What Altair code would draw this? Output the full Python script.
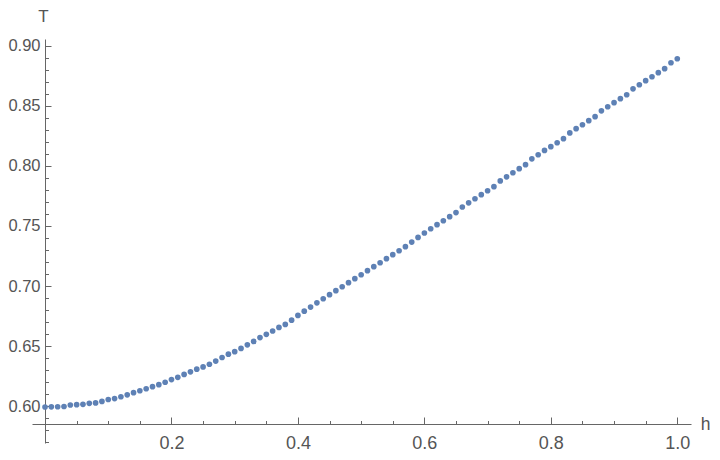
import altair as alt
import pandas as pd

# h grid (x values)
h_values = [
    0.00, 0.01, 0.02, 0.03, 0.04, 0.05, 0.06, 0.07, 0.08, 0.09,
    0.10, 0.11, 0.12, 0.13, 0.14, 0.15, 0.16, 0.17, 0.18, 0.19,
    0.20, 0.21, 0.22, 0.23, 0.24, 0.25, 0.26, 0.27, 0.28, 0.29,
    0.30, 0.31, 0.32, 0.33, 0.34, 0.35, 0.36, 0.37, 0.38, 0.39,
    0.40, 0.41, 0.42, 0.43, 0.44, 0.45, 0.46, 0.47, 0.48, 0.49,
    0.50, 0.51, 0.52, 0.53, 0.54, 0.55, 0.56, 0.57, 0.58, 0.59,
    0.60, 0.61, 0.62, 0.63, 0.64, 0.65, 0.66, 0.67, 0.68, 0.69,
    0.70, 0.71, 0.72, 0.73, 0.74, 0.75, 0.76, 0.77, 0.78, 0.79,
    0.80, 0.81, 0.82, 0.83, 0.84, 0.85, 0.86, 0.87, 0.88, 0.89,
    0.90, 0.91, 0.92, 0.93, 0.94, 0.95, 0.96, 0.97, 0.98, 0.99,
    1.00,
]

# T values
T_values = [
    0.5992, 0.5993, 0.5994, 0.5996, 0.6008, 0.6011, 0.6014, 0.6022, 0.6026, 0.6038,
    0.6054, 0.6062, 0.6077, 0.6093, 0.6111, 0.6127, 0.6144, 0.6161, 0.6178, 0.6198,
    0.6220, 0.6239, 0.6263, 0.6285, 0.6307, 0.6326, 0.6348, 0.6374, 0.6404, 0.6432,
    0.6453, 0.6480, 0.6510, 0.6538, 0.6570, 0.6597, 0.6625, 0.6655, 0.6680, 0.6715,
    0.6755, 0.6790, 0.6824, 0.6860, 0.6894, 0.6928, 0.6961, 0.6994, 0.7028, 0.7061,
    0.7094, 0.7128, 0.7161, 0.7194, 0.7228, 0.7261, 0.7294, 0.7328, 0.7366, 0.7405,
    0.7442, 0.7477, 0.7511, 0.7544, 0.7578, 0.7612, 0.7658, 0.7693, 0.7727, 0.7761,
    0.7794, 0.7828, 0.7876, 0.7910, 0.7944, 0.7978, 0.8011, 0.8060, 0.8094, 0.8130,
    0.8161, 0.8194, 0.8228, 0.8276, 0.8311, 0.8344, 0.8378, 0.8411, 0.8460, 0.8494,
    0.8528, 0.8561, 0.8594, 0.8643, 0.8677, 0.8711, 0.8744, 0.8778, 0.8811, 0.8860,
    0.8894,
]

x_major = [0.2, 0.4, 0.6, 0.8, 1.0]
x_minor = [0.05, 0.1, 0.15, 0.25, 0.3, 0.35, 0.45, 0.5, 0.55, 0.65, 0.7, 0.75,
           0.85, 0.9, 0.95]
y_major = [0.60, 0.65, 0.70, 0.75, 0.80, 0.85, 0.90]
y_minor = [0.57, 0.58, 0.59, 0.61, 0.62, 0.63, 0.64, 0.66, 0.67, 0.68, 0.69,
           0.71, 0.72, 0.73, 0.74, 0.76, 0.77, 0.78, 0.79, 0.81, 0.82, 0.83,
           0.84, 0.86, 0.87, 0.88, 0.89]

x_domain = [-0.0206, 1.0217]
y_domain = [0.56917, 0.90583]

df = pd.DataFrame({"h": h_values, "T": T_values})

W, H = 659, 404
AXIS_COLOR = "#666666"
LABEL_COLOR = "#555555"
FONT = "Liberation Sans"

xs = alt.Scale(domain=x_domain, nice=False, zero=False)
ys = alt.Scale(domain=y_domain, nice=False, zero=False)

# Labels + titles layer (with the visible points)
points = alt.Chart(df).mark_circle(size=32, opacity=1, color="#5E81B5").encode(
    x=alt.X("h:Q", scale=xs, axis=alt.Axis(
        orient="bottom", offset=-19, values=x_major, format=".1f",
        ticks=False, domain=False, grid=False,
        labelPadding=10.5, labelFontSize=18, labelColor=LABEL_COLOR, labelFont=FONT,
        title="h", titleAngle=0, titleX=673, titleY=0.5,
        titleAlign="center", titleBaseline="middle",
        titleFontSize=17.5, titleFontWeight="normal", titleColor=LABEL_COLOR, titleFont=FONT,
    )),
    y=alt.Y("T:Q", scale=ys, axis=alt.Axis(
        orient="left", offset=-13, values=y_major, format=".2f",
        ticks=False, domain=False, grid=False,
        labelPadding=5, labelFontSize=16.5, labelColor=LABEL_COLOR, labelFont=FONT,
        title="T", titleAngle=0, titleX=-2, titleY=-30.5,
        titleAlign="center", titleBaseline="top",
        titleFontSize=17, titleFontWeight="normal", titleColor=LABEL_COLOR, titleFont=FONT,
    )),
)

# Axis lines + major ticks
major = alt.Chart(df).mark_circle(opacity=0).encode(
    x=alt.X("h:Q", scale=xs, axis=alt.Axis(
        orient="top", offset=-385, values=x_major, labels=False, grid=False,
        domain=True, domainColor=AXIS_COLOR, domainWidth=1,
        ticks=True, tickSize=7, tickColor=AXIS_COLOR, tickWidth=1, title=None,
    )),
    y=alt.Y("T:Q", scale=ys, axis=alt.Axis(
        orient="right", offset=-646, values=y_major, labels=False, grid=False,
        domain=True, domainColor=AXIS_COLOR, domainWidth=1,
        ticks=True, tickSize=6, tickColor=AXIS_COLOR, tickWidth=1, title=None,
    )),
)

# Minor ticks
minor = alt.Chart(df).mark_circle(opacity=0).encode(
    x=alt.X("h:Q", scale=xs, axis=alt.Axis(
        orient="top", offset=-385, values=x_minor, labels=False, grid=False,
        domain=False, ticks=True, tickSize=3.5, tickColor=AXIS_COLOR, tickWidth=1,
        title=None,
    )),
    y=alt.Y("T:Q", scale=ys, axis=alt.Axis(
        orient="right", offset=-646, values=y_minor, labels=False, grid=False,
        domain=False, ticks=True, tickSize=3.5, tickColor=AXIS_COLOR, tickWidth=1,
        title=None,
    )),
)

chart = alt.layer(minor, major, points).resolve_axis(
    x="independent", y="independent"
).properties(
    width=W, height=H,
    padding={"left": 24, "top": 31, "right": 21, "bottom": 17},
    autosize=alt.AutoSizeParams(type="none"),
    background="white",
).configure_view(stroke=None)

chart.save("out.html", embed_options={"renderer": "svg", "actions": False})
